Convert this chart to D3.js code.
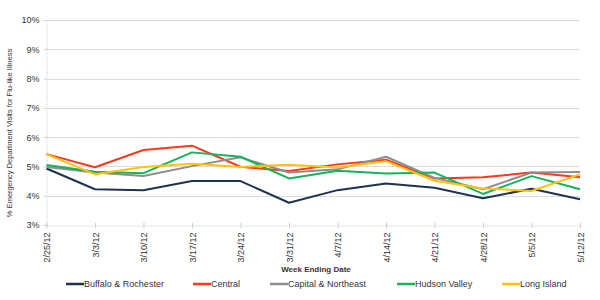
<!DOCTYPE html>
<html>
<head>
<meta charset="utf-8">
<script src="https://cdn.jsdelivr.net/npm/d3@7"></script>
<style>
  body { margin: 0; background: #fff; }
  text { font-family: "Liberation Sans", Arial, sans-serif; fill: #333; }
</style>
</head>
<body>
<svg id="chart"></svg>
<script>
  // week ending dates and series values (%)
  var weeks = ["2/25/12", "3/3/12", "3/10/12", "3/17/12", "3/24/12", "3/31/12",
               "4/7/12", "4/14/12", "4/21/12", "4/28/12", "5/5/12", "5/12/12"];
  var buffalo  = [4.93, 4.22, 4.19, 4.50, 4.50, 3.76, 4.19, 4.42, 4.27, 3.91, 4.24, 3.88];
  var central  = [5.42, 4.97, 5.56, 5.71, 4.99, 4.84, 5.07, 5.23, 4.59, 4.63, 4.79, 4.63];
  var capital  = [4.98, 4.79, 4.67, 5.01, 5.31, 4.79, 4.90, 5.33, 4.61, 4.22, 4.79, 4.81];
  var hudson   = [5.05, 4.82, 4.77, 5.48, 5.33, 4.59, 4.85, 4.76, 4.79, 4.06, 4.67, 4.22];
  var longIsl  = [5.42, 4.73, 4.98, 5.09, 4.98, 5.06, 4.96, 5.18, 4.51, 4.25, 4.16, 4.73];
  var names    = ["Buffalo & Rochester", "Central", "Capital & Northeast", "Hudson Valley", "Long Island"];
  var yTicks   = [3, 4, 5, 6, 7, 8, 9, 10];

  var series = [buffalo, central, capital, hudson, longIsl];
  var colors = ["#1f3251", "#fa3a1a", "#8e8e8e", "#15b45a", "#ffc20e"];

  var width = 600, height = 300;
  var svg = d3.select("#chart").attr("width", width).attr("height", height);

  var x = d3.scalePoint().domain(weeks).range([46.5, 580]);
  var y = d3.scaleLinear().domain([3, 10]).range([225, 20]);

  // gridlines
  svg.append("g")
    .selectAll("line")
    .data(yTicks.slice(1))
    .enter()
    .append("line")
    .attr("x1", 46.5).attr("x2", 580)
    .attr("y1", function(d) { return Math.round(y(d)) + 0.5; })
    .attr("y2", function(d) { return Math.round(y(d)) + 0.5; })
    .attr("stroke", "#dcdcdc")
    .attr("stroke-width", 1);

  // y axis
  var yAxis = svg.append("g")
    .attr("transform", "translate(46.5,0)")
    .call(d3.axisLeft(y).tickValues(yTicks).tickSize(3).tickFormat(function(d) { return d + "%"; }));
  yAxis.select(".domain").attr("stroke", "#d0d0d0").attr("stroke-dasharray", "1,1");
  yAxis.selectAll(".tick line").attr("stroke", "#d0d0d0");
  yAxis.selectAll(".tick text").attr("x", -7).style("font-size", "9px").style("font-family", "Liberation Sans, Arial, sans-serif").attr("fill", "#333");

  // x axis
  var xAxis = svg.append("g")
    .attr("transform", "translate(0," + (Math.round(y(3)) + 0.5) + ")")
    .call(d3.axisBottom(x).tickSizeInner(3).tickSizeOuter(0));
  xAxis.select(".domain").attr("stroke", "#cfcfcf").attr("stroke-dasharray", "1,1");
  xAxis.selectAll(".tick line").attr("stroke", "#cfcfcf").attr("y1", -3);
  xAxis.selectAll(".tick text")
    .style("font-size", "9px")
    .style("font-family", "Liberation Sans, Arial, sans-serif")
    .attr("fill", "#333")
    .attr("text-anchor", "end")
    .attr("dy", "0.35em")
    .attr("transform", "translate(0,7) rotate(-90)")
    .attr("x", 0).attr("y", 0);

  // axis titles
  svg.append("text")
    .attr("transform", "translate(12,133) rotate(-90)")
    .attr("text-anchor", "middle")
    .style("font-size", "7.5px")
    .text("% Emergency  Department Visits for Flu-like Illness");

  svg.append("text")
    .attr("x", 316).attr("y", 272)
    .attr("text-anchor", "middle")
    .style("font-size", "8px")
    .style("font-weight", "bold")
    .attr("fill", "#444")
    .text("Week Ending Date");

  // lines
  var line = d3.line()
    .x(function(d, i) { return x(weeks[i]); })
    .y(function(d) { return y(d); });

  svg.append("g")
    .selectAll("path")
    .data(series)
    .enter()
    .append("path")
    .attr("d", line)
    .attr("fill", "none")
    .attr("stroke", function(d, i) { return colors[i]; })
    .attr("stroke-width", 2)
    .attr("stroke-linejoin", "round");

  // legend
  var legendX = [66, 193, 270, 397, 502];
  var legend = svg.append("g")
    .selectAll("g")
    .data(names)
    .enter()
    .append("g")
    .attr("transform", function(d, i) { return "translate(" + legendX[i] + ",284)"; });

  legend.append("line")
    .attr("x1", 0).attr("x2", 18)
    .attr("stroke", function(d, i) { return colors[i]; })
    .attr("stroke-width", 2.5);

  legend.append("text")
    .attr("x", 18)
    .attr("dy", "0.35em")
    .style("font-size", "9px")
    .attr("fill", "#333")
    .text(function(d) { return d; });
</script>
</body>
</html>
